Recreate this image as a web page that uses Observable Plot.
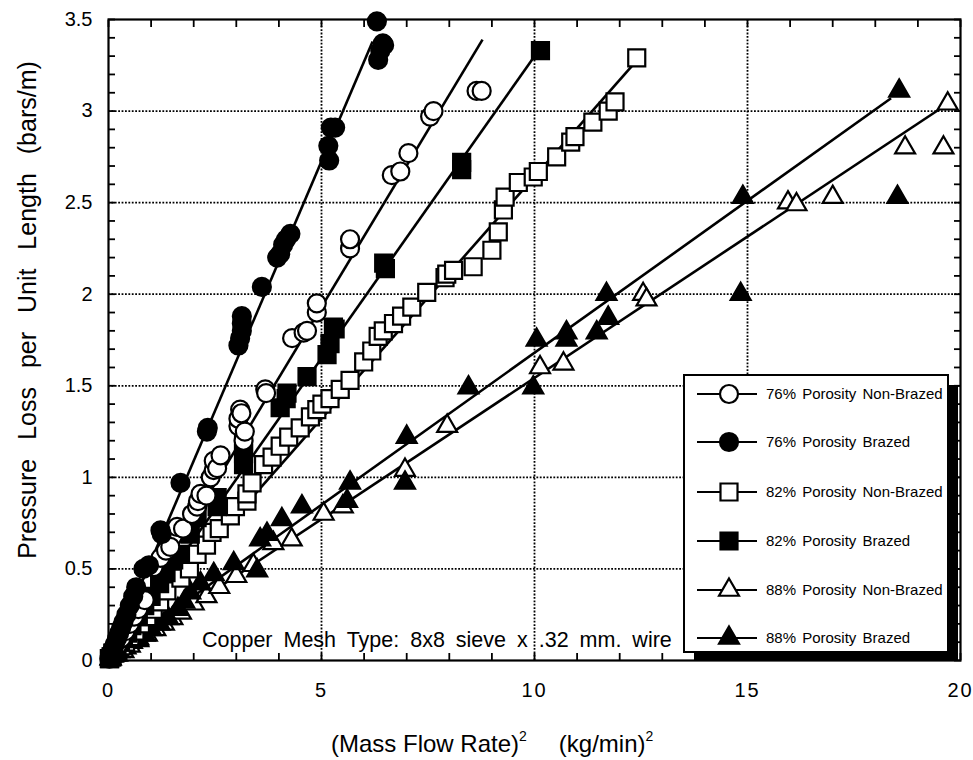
<!DOCTYPE html>
<html><head><meta charset="utf-8">
<script src="https://cdn.jsdelivr.net/npm/d3@7"></script>
<script src="https://cdn.jsdelivr.net/npm/@observablehq/plot@0.6"></script>
<style>
body{margin:0;background:#fff;}
#chart svg{display:block;}
</style></head><body><div id="chart"></div>
<script>
// ---------- data ----------
const seriesNames = ["76% Porosity Non-Brazed","76% Porosity Brazed","82% Porosity Non-Brazed","82% Porosity Brazed","88% Porosity Non-Brazed","88% Porosity Brazed"];

// 76% Non-Brazed (open circles)
const nb76x = [0.05,0.1,0.15,0.2,0.3,0.4,0.5,0.6,0.7,0.85,1.06,1.22,1.35,1.45,1.61,1.75,1.96,2.08,2.1,2.16,2.3,2.4,2.47,2.47,2.55,2.63,3.05,3.05,3.09,3.12,3.17,3.2,3.68,3.7,4.31,4.58,4.66,4.89,4.89,5.67,5.67,6.65,6.85,7.04,7.55,7.63,8.64,8.76];
const nb76y = [0.02,0.04,0.06,0.08,0.12,0.16,0.2,0.24,0.28,0.33,0.51,0.56,0.6,0.62,0.73,0.72,0.8,0.84,0.87,0.91,0.9,1.0,1.04,1.09,1.05,1.12,1.28,1.32,1.37,1.35,1.2,1.25,1.48,1.46,1.76,1.79,1.8,1.9,1.95,2.25,2.3,2.65,2.67,2.77,2.97,3.0,3.11,3.11];
// 76% Brazed (filled circles)
const b76x = [0.02,0.05,0.08,0.12,0.15,0.2,0.25,0.3,0.35,0.42,0.5,0.58,0.65,0.82,0.95,1.22,1.25,1.69,2.31,2.33,3.05,3.09,3.13,3.13,3.13,3.6,3.96,4.03,4.1,4.17,4.27,5.16,5.18,5.22,5.32,6.3,6.33,6.38,6.44,6.47];
const b76y = [0.01,0.03,0.05,0.07,0.09,0.12,0.15,0.18,0.21,0.25,0.3,0.35,0.4,0.5,0.52,0.71,0.69,0.97,1.25,1.27,1.72,1.76,1.8,1.84,1.88,2.04,2.2,2.22,2.27,2.3,2.33,2.81,2.73,2.91,2.91,3.49,3.28,3.33,3.37,3.36];
// 82% Non-Brazed (open squares)
const nb82x = [0.03,0.08,0.15,0.22,0.3,0.4,0.5,0.62,0.75,0.9,1.05,1.2,1.37,1.45,1.7,1.9,2.08,2.3,2.43,2.6,2.86,2.98,3.25,3.25,3.37,3.64,3.84,4.03,4.23,4.5,4.74,4.89,5.01,5.2,5.44,5.67,5.99,6.18,6.33,6.45,6.69,6.88,7.12,7.47,7.9,7.94,8.1,8.56,9.0,9.15,9.27,9.31,9.62,9.97,10.09,10.52,10.85,10.95,11.37,11.73,11.89,12.4];
const nb82y = [0.01,0.02,0.04,0.06,0.08,0.1,0.13,0.16,0.2,0.24,0.28,0.32,0.38,0.53,0.45,0.5,0.58,0.63,0.7,0.72,0.79,0.84,0.87,0.91,0.97,1.07,1.11,1.17,1.22,1.27,1.33,1.37,1.4,1.43,1.48,1.53,1.63,1.69,1.77,1.8,1.84,1.88,1.93,2.01,2.09,2.11,2.13,2.15,2.24,2.34,2.46,2.53,2.61,2.64,2.67,2.75,2.83,2.86,2.94,3.0,3.05,3.29];
// 82% Brazed (filled squares)
const b82x = [0.02,0.06,0.1,0.15,0.2,0.28,0.35,0.45,0.55,0.7,0.85,1.0,1.2,1.35,1.53,1.69,1.92,2.08,2.55,2.55,3.17,3.17,3.17,4.03,4.17,4.19,4.66,5.13,5.2,5.28,5.32,6.46,6.5,8.29,8.29,10.14];
const b82y = [0.01,0.02,0.04,0.05,0.07,0.1,0.12,0.15,0.19,0.24,0.3,0.35,0.42,0.48,0.55,0.58,0.69,0.78,0.84,0.89,1.07,1.13,1.19,1.38,1.43,1.46,1.55,1.67,1.73,1.82,1.81,2.17,2.14,2.72,2.68,3.33];
// 88% Non-Brazed (open triangles)
const nb88x = [0.05,0.2,0.35,0.5,0.7,0.9,1.1,1.3,1.5,1.7,2.0,2.3,2.6,3.0,3.4,3.87,4.3,5.05,5.5,6.96,7.95,10.13,10.68,12.55,12.63,15.95,16.15,17.0,18.7,19.6,19.7];
const nb88y = [0.01,0.03,0.05,0.08,0.11,0.14,0.17,0.2,0.23,0.26,0.31,0.35,0.4,0.46,0.52,0.64,0.66,0.8,0.84,1.04,1.28,1.6,1.62,2.0,1.97,2.5,2.49,2.53,2.8,2.8,3.04];
// 88% Brazed (filled triangles)
const b88x = [0.05,0.15,0.25,0.4,0.55,0.7,0.85,1.0,1.2,1.4,1.63,1.78,1.92,2.16,2.47,2.94,3.49,3.56,3.72,4.07,4.54,5.6,5.67,6.96,7.0,8.45,9.97,10.05,10.75,10.75,11.46,11.69,11.73,14.84,14.89,18.52,18.56];
const b88y = [0.01,0.03,0.05,0.07,0.1,0.12,0.14,0.17,0.2,0.23,0.28,0.32,0.37,0.42,0.47,0.53,0.49,0.66,0.69,0.77,0.84,0.87,0.97,0.97,1.22,1.49,1.49,1.75,1.75,1.79,1.79,2.0,1.87,2.0,2.53,2.53,3.11];

// fitted straight lines (start x, start y, end x, end y) per series
const fitX1 = [0, 0, 0, 0, 0, 0];
const fitY1 = [0, 0, 0, 0, 0, 0.02];
const fitX2 = [8.78, 6.2, 12.3, 10.0, 19.7, 18.37];
const fitY2 = [3.39, 3.38, 3.25, 3.3, 3.04, 3.07];

const xLabelTicks = [0, 5, 10, 15, 20];
const yLabelTicks = [0, 0.5, 1, 1.5, 2, 2.5, 3, 3.5];
const xMinorTicks = [0,1,2,3,4,5,6,7,8,9,10,11,12,13,14,15,16,17,18,19,20];
const yMinorTicks = [0,0.1,0.2,0.3,0.4,0.5,0.6,0.7,0.8,0.9,1,1.1,1.2,1.3,1.4,1.5,1.6,1.7,1.8,1.9,2,2.1,2.2,2.3,2.4,2.5,2.6,2.7,2.8,2.9,3,3.1,3.2,3.3,3.4,3.5];
const xGrid = [5, 10, 15];
const yGrid = [0.5, 1, 1.5, 2, 2.5, 3];
const caption = "Copper Mesh Type: 8x8 sieve x .32 mm. wire";
const yTitle = "Pressure Loss per Unit Length (bars/m)";
const xTitleParts = ["(Mass Flow Rate)", "2", "(kg/min)", "2"];

// ---------- build tables ----------
const xsAll = [nb76x, b76x, nb82x, b82x, nb88x, b88x];
const ysAll = [nb76y, b76y, nb82y, b82y, nb88y, b88y];
const symbols = ["circle","circle","square","square","triangle","triangle"];
const filled = [false,true,false,true,false,true];
const radius = {circle: 9, square: 9.6, triangle: 7.4};

const fits = seriesNames.map((s, i) => ({s, x1: fitX1[i], y1: fitY1[i], x2: fitX2[i], y2: fitY2[i]}));
const drawOrder = [4, 5, 2, 3, 0, 1];

const dotMarks = drawOrder.map(i => {
  const rows = xsAll[i].map((x, j) => ({s: seriesNames[i], x, y: ysAll[i][j]}));
  return Plot.dot(rows, {x: "x", y: "y", symbol: () => symbols[i], r: radius[symbols[i]],
    fill: filled[i] ? "black" : "white", stroke: "black", strokeWidth: 2.2});
});

const F = "Liberation Sans, Arial, Helvetica, sans-serif";
const blank = () => "";

const chart = Plot.plot({
  width: 973, height: 760,
  marginLeft: 108, marginRight: 13, marginTop: 19, marginBottom: 100,
  style: {fontFamily: F, background: "white", color: "black"},
  x: {domain: [0, 20]},
  y: {domain: [0, 3.5]},
  symbol: {type: "identity"},
  marks: [
    Plot.gridY(yGrid, {stroke: "black", strokeOpacity: 1, strokeWidth: 1.8, strokeDasharray: "1.8,1.6"}),
    Plot.gridX(xGrid, {stroke: "black", strokeOpacity: 1, strokeWidth: 1.8, strokeDasharray: "1.8,1.6"}),
    Plot.link(fits, {x1: "x1", y1: "y1", x2: "x2", y2: "y2", stroke: "black", strokeWidth: 2.6}),
    ...dotMarks,
    Plot.frame({stroke: "black", strokeWidth: 2.2}),
    Plot.axisX(xMinorTicks, {anchor: "bottom", tickSize: 7, dy: -7, tickFormat: blank, strokeWidth: 1.8, label: null}),
    Plot.axisX(xMinorTicks, {anchor: "top", tickSize: 7, dy: 7, tickFormat: blank, strokeWidth: 1.8, label: null}),
    Plot.axisY(yMinorTicks, {anchor: "left", tickSize: 7, dx: 7, tickFormat: blank, strokeWidth: 1.8, label: null}),
    Plot.axisY(yMinorTicks, {anchor: "right", tickSize: 7, dx: -7, tickFormat: blank, strokeWidth: 1.8, label: null}),
    Plot.axisX(xLabelTicks, {anchor: "bottom", tickSize: 0, tickPadding: 22, fontSize: 20, label: null, tickFormat: d => String(d)}),
    Plot.axisY(yLabelTicks, {anchor: "left", tickSize: 0, tickPadding: 16, fontSize: 20, label: null, tickFormat: d => String(d)})
  ]
});
document.getElementById("chart").appendChild(chart);

// ---------- annotations, titles and legend ----------
const svg = d3.select(chart);
svg.selectAll("g[aria-label='x-axis tick label'] text").attr("letter-spacing", "2px");

svg.append("text").attr("x", 202).attr("y", 647).attr("text-anchor", "start")
  .attr("font-family", F).attr("font-size", 21.5).attr("word-spacing", "5px").text(caption);

svg.append("text").attr("transform", "translate(36,310) rotate(-90)").attr("text-anchor", "middle")
  .attr("font-family", F).attr("font-size", 25).attr("word-spacing", "12px").text(yTitle);

const xt = svg.append("text").attr("x", 331).attr("y", 752).attr("text-anchor", "start").attr("font-family", F).attr("font-size", 24);
xt.append("tspan").text(xTitleParts[0]);
xt.append("tspan").attr("dy", -11).attr("font-size", 14).text(xTitleParts[1]);
xt.append("tspan").attr("dy", 11).attr("dx", 32).text(xTitleParts[2]);
xt.append("tspan").attr("dy", -11).attr("font-size", 14).text(xTitleParts[3]);

const lg = svg.append("g");
lg.append("rect").attr("x", 694).attr("y", 385).attr("width", 264).attr("height", 276).attr("fill", "black");
lg.append("rect").attr("x", 684).attr("y", 375).attr("width", 264).attr("height", 277).attr("fill", "white").attr("stroke", "black").attr("stroke-width", 2);
const rowY = [394, 442, 492, 541, 590, 638];
const d3sym = {circle: d3.symbolCircle, square: d3.symbolSquare, triangle: d3.symbolTriangle};
seriesNames.forEach((name, i) => {
  const y = rowY[i];
  lg.append("line").attr("x1", 697).attr("x2", 757).attr("y1", y).attr("y2", y).attr("stroke", "black").attr("stroke-width", 2);
  const r = radius[symbols[i]];
  lg.append("path").attr("d", d3.symbol(d3sym[symbols[i]], Math.PI * r * r)())
    .attr("transform", `translate(729,${y})`).attr("fill", filled[i] ? "black" : "white").attr("stroke", "black").attr("stroke-width", 2.2);
  lg.append("text").attr("x", 766).attr("y", y).attr("dy", "0.35em").attr("text-anchor", "start")
    .attr("font-family", F).attr("font-size", 15).attr("word-spacing", "2px").text(name);
});
</script></body></html>
